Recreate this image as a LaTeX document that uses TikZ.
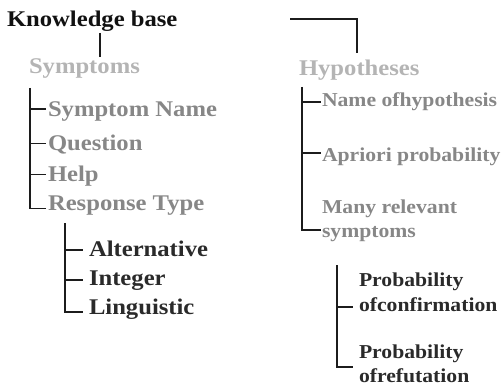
\documentclass[tikz,border=0pt]{standalone}
\usepackage{fontspec}
\setmainfont{Liberation Serif}[FakeStretch=1.1]
\definecolor{linec}{HTML}{1C1C1C}
\definecolor{rootc}{HTML}{111111}
\definecolor{groupc}{HTML}{B4B4B4}
\definecolor{itemc}{HTML}{878787}
\definecolor{subc}{HTML}{2A2A2A}
\newcommand{\bigtxt}{\bfseries\fontsize{22.4}{26}\selectfont}
\newcommand{\smalltxt}{\bfseries\fontsize{19.7}{24.5}\selectfont}
\begin{document}
\begin{tikzpicture}[x=1pt,y=-1pt,
  link/.style={draw=linec,line width=1.9pt},
  tick/.style={link,shorten >=2.5pt},
  lbl/.style={anchor=base west,inner sep=0pt,outer sep=0pt},
  root/.style={lbl,font=\bigtxt,text=rootc},
  group/.style={lbl,font=\bigtxt,text=groupc},
  item/.style={lbl,font=\bigtxt,text=itemc},
  sub/.style={lbl,font=\bigtxt,text=subc},
  ritem/.style={lbl,font=\smalltxt,text=itemc,align=left},
  rsub/.style={lbl,font=\smalltxt,text=subc,align=left}]
\useasboundingbox (0,0) rectangle (502,387);

% headings
\node[root]  (kb)   at (7,26.7)  {Knowledge base};
\node[group] (symp) at (29,74)   {Symptoms};
\node[group] (hyp)  at (299,76)  {Hypotheses};

% link from the knowledge base to the symptoms
\coordinate (kbdrop) at (100,33);
\draw[link] (kbdrop) -- (kbdrop |- 0,57);

% bracket above the hypotheses
\coordinate (hbarL) at (290,19);
\coordinate (hbarR) at (357,19);
\coordinate (hbarD) at (357,53);
\draw[link] (hbarL) -- (hbarR) -- (hbarD);

% symptom fields
\node[item] (sname) at (48,116.7) {Symptom Name};
\node[item] (quest) at (48,150.7) {Question};
\node[item] (help)  at (48,181.7) {Help};
\node[item] (resp)  at (48,210.7) {Response Type};

\coordinate (st0) at (30,88);
\coordinate (st1) at (30,109);
\coordinate (st2) at (30,143.5);
\coordinate (st3) at (30,174.5);
\coordinate (st4) at (30,208.5);
\draw[link] (st0) -- (st4);
\draw[tick] (st1) -- (st1 -| sname.west);
\draw[tick] (st2) -- (st2 -| quest.west);
\draw[tick] (st3) -- (st3 -| help.west);
\draw[tick] ([xshift=-0.95pt]st4) -- (st4 -| resp.west);

% response types
\node[sub] (alt)  at (89,256)   {Alternative};
\node[sub] (intg) at (89,285)   {Integer};
\node[sub] (ling) at (89,314)   {Linguistic};

\coordinate (rt0) at (65,223);
\coordinate (rt1) at (65,250);
\coordinate (rt2) at (65,280);
\coordinate (rt3) at (65,312);
\draw[link] (rt0) -- (rt3);
\draw[tick,shorten >=6pt] (rt1) -- (rt1 -| alt.west);
\draw[tick,shorten >=6pt] (rt2) -- (rt2 -| intg.west);
\draw[tick,shorten >=6pt] ([xshift=-0.95pt]rt3) -- (rt3 -| ling.west);

% hypothesis fields (a two-line label sits on its last baseline)
\node[ritem] (hname) at (322,107)   {Name ofhypothesis};
\node[ritem] (apri)  at (322,161.5) {Apriori probability};
\node[ritem] (many)  at (322,237.5) {Many relevant\\symptoms};

\coordinate (ht0) at (302,87);
\coordinate (ht1) at (302,102);
\coordinate (ht2) at (302,153.3);
\coordinate (ht3) at (302,230);
\draw[link] (ht0) -- (ht3);
\draw[tick,shorten >=1.5pt] (ht1) -- (ht1 -| hname.west);
\draw[tick,shorten >=1.5pt] (ht2) -- (ht2 -| apri.west);
\draw[tick,shorten >=1.5pt] ([xshift=-0.95pt]ht3) -- (ht3 -| many.west);

% symptom probabilities
\node[rsub] (pconf) at (359,311.2) {Probability\\ofconfirmation};
\node[rsub] (pref)  at (359,382.5) {Probability\\ofrefutation};

\coordinate (pt0) at (337,265);
\coordinate (pt1) at (337,306.7);
\coordinate (pt2) at (337,367);
\draw[link] (pt0) -- (pt2);
\draw[tick,shorten >=6pt] (pt1) -- (pt1 -| pconf.west);
\draw[tick,shorten >=6pt] ([xshift=-0.95pt]pt2) -- (pt2 -| pref.west);
\end{tikzpicture}
\end{document}
